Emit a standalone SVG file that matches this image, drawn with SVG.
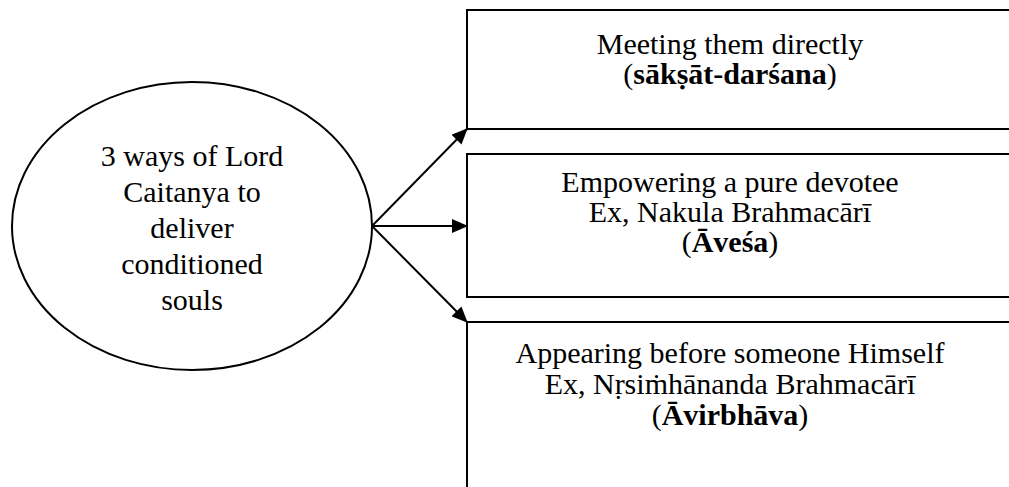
<svg xmlns="http://www.w3.org/2000/svg" width="1009" height="487" viewBox="0 0 1009 487">
<defs>
<style>
.shape{fill:#fff;stroke:#000;stroke-width:2}
.t{font-family:"Liberation Serif","Times New Roman",serif;font-size:30px;fill:#000;text-anchor:middle}
.b{font-weight:bold}
.conn{stroke:#000;stroke-width:2;fill:none;marker-end:url(#arr)}
</style>
<marker id="arr" markerUnits="userSpaceOnUse" markerWidth="16" markerHeight="14" refX="15" refY="7" orient="auto">
<path d="M0,0 L16,7 L0,14 Z" fill="#000"/>
</marker>
</defs>
<rect width="1009" height="487" fill="#fff"/>
<g id="center">
<ellipse class="shape" cx="192" cy="226" rx="180" ry="144"/>
<text class="t" x="192" y="166">3 ways of Lord</text>
<text class="t" x="192" y="202">Caitanya to</text>
<text class="t" x="192" y="238">deliver</text>
<text class="t" x="192" y="274">conditioned</text>
<text class="t" x="192" y="310">souls</text>
</g>
<g id="box1">
<rect class="shape" x="467" y="10" width="560" height="119"/>
<text class="t" x="730" y="54">Meeting them directly</text>
<text class="t" x="730" y="84">(<tspan class="b">sākṣāt-darśana</tspan>)</text>
</g>
<g id="box2">
<rect class="shape" x="467" y="154" width="560" height="143"/>
<text class="t" x="730" y="192">Empowering a pure devotee</text>
<text class="t" x="730" y="222">Ex, Nakula Brahmacārī</text>
<text class="t" x="730" y="252">(<tspan class="b">Āveśa</tspan>)</text>
</g>
<g id="box3">
<rect class="shape" x="467" y="322" width="560" height="200"/>
<text class="t" x="730" y="363">Appearing before someone Himself</text>
<text class="t" x="730" y="394">Ex, Nṛsiṁhānanda Brahmacārī</text>
<text class="t" x="730" y="425">(<tspan class="b">Āvirbhāva</tspan>)</text>
</g>
<g id="connectors">
<line class="conn" x1="372" y1="226" x2="467" y2="129"/>
<line class="conn" x1="372" y1="226" x2="467" y2="226"/>
<line class="conn" x1="372" y1="226" x2="467" y2="322"/>
</g>
</svg>
